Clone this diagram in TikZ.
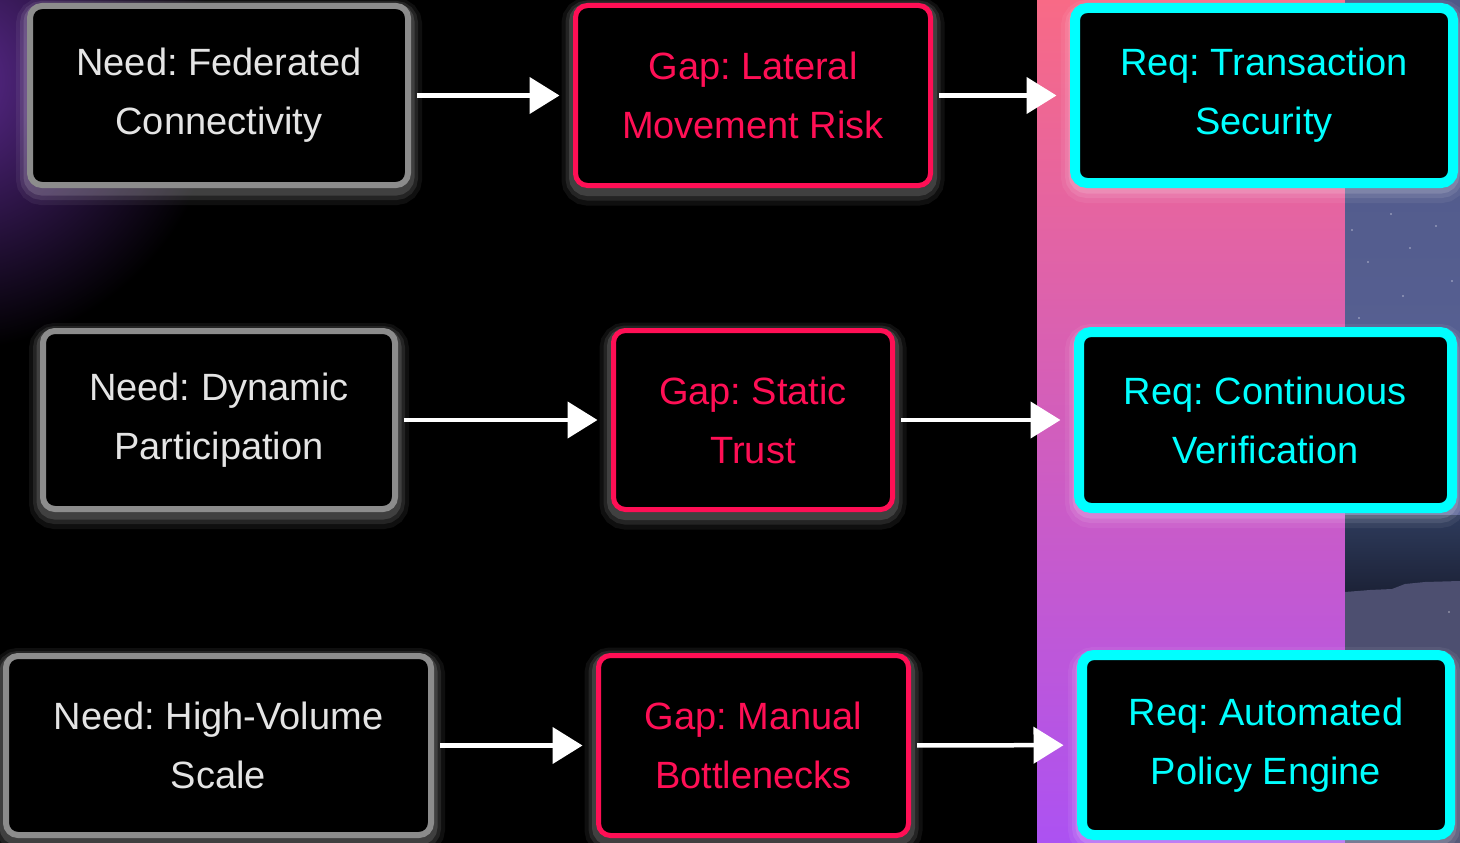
\documentclass[tikz,border=0pt]{standalone}
\usepackage{fontspec}
\setmainfont{Liberation Sans}
\frenchspacing
\usetikzlibrary{arrows.meta}
\definecolor{needgray}{HTML}{8C8C8C}
\definecolor{needtext}{HTML}{E4E4E4}
\definecolor{gapred}{HTML}{FF0F55}
\definecolor{reqcyan}{HTML}{00FFFF}
\definecolor{pinktop}{HTML}{F86A86}
\definecolor{pinkmid}{HTML}{D856C4}
\definecolor{violetbot}{HTML}{AC52F2}
\definecolor{glowpurple}{HTML}{5C2A90}
\definecolor{skytop}{HTML}{4F5888}
\definecolor{skybot}{HTML}{5A6396}
\definecolor{nighttop}{HTML}{2E3B5C}
\definecolor{nightbot}{HTML}{1C2237}
\definecolor{hill}{HTML}{4D4F70}

\tikzset{
	box/.style={rounded corners=12pt, fill=black, align=center, inner sep=0pt,
		font=\fontsize{38}{59}\selectfont, execute at begin node={\rule{0pt}{35pt}},
		preaction={draw=white, draw opacity=0.06, line width=28pt, transform canvas={yshift=-6pt}},
		preaction={draw=white, draw opacity=0.09, line width=20pt, transform canvas={yshift=-5pt}},
		preaction={draw=white, draw opacity=0.13, line width=13pt, transform canvas={yshift=-4pt}}},
	need/.style={box, draw=needgray, line width=6pt, text=needtext},
	gap/.style={box, draw=gapred, line width=5pt, text=gapred},
	req/.style={box, draw=reqcyan, line width=10pt, text=reqcyan},
	flow/.style={draw=white, line width=4.5pt, -{Triangle[length=30pt,width=36pt]},
		shorten <=6pt, shorten >=13.5pt}
}

\begin{document}
\begin{tikzpicture}[x=1pt,y=-1pt]
		\useasboundingbox (0,0) rectangle (1460,843);
		\fill[black] (0,0) rectangle (1460,843);
		\begin{scope}
			\clip (0,0) rectangle (1037,843);
			\shade[inner color=glowpurple, outer color=black] (-50,80) circle (270);
		\end{scope}
		\shade[top color=pinktop, middle color=pinkmid, bottom color=violetbot] (1037,0) rectangle (1345,843);
		
		% night sky strip on the right
		\shade[top color=skytop, bottom color=skybot] (1345,0) rectangle (1460,516);
		\shade[top color=nighttop, bottom color=nightbot] (1345,515) rectangle (1460,592);
		\fill[hill] (1345,592)--(1370,590)--(1392,589)--(1405,584)--(1425,582)--(1460,581)--(1460,843)--(1345,843)--cycle;
		\foreach \sx/\sy in {1352/230, 1368/262, 1391/214, 1410/248, 1436/226, 1452/281, 1359/318, 1384/341, 1403/296, 1428/372, 1447/330, 1371/402, 1395/437, 1419/465, 1441/418, 1356/480, 1449/612}
			\fill[white, opacity=0.55] (\sx,\sy) circle (0.9);
		
		\node[need, minimum width=378pt, minimum height=179pt] (needfed) at (219,95.5) {Need: Federated\\Connectivity};
		\node[need, minimum width=352pt, minimum height=178pt] (needdyn) at (219,420) {Need: Dynamic\\Participation};
		\node[need, minimum width=425pt, minimum height=179pt] (needvol) at (218.5,745.5) {Need: High-Volume\\Scale};
		
		\node[gap, minimum width=355pt, minimum height=180pt] (gaplat) at (753,95.5) {Gap: Lateral\\Movement Risk};
		\node[gap, minimum width=279pt, minimum height=179pt] (gapstat) at (753,420) {Gap: Static\\Trust};
		\node[gap, minimum width=310pt, minimum height=180pt] (gapman) at (753.5,745.5) {Gap: Manual\\Bottlenecks};
		
		\node[req, minimum width=378pt, minimum height=175pt] (reqtx) at (1264,95.5) {Req: Transaction\\Security};
		\node[req, minimum width=373pt, minimum height=176pt] (reqver) at (1265.5,420) {Req: Continuous\\Verification};
		\node[req, minimum width=368pt, minimum height=180pt] (reqpol) at (1266,745) {Req: Automated\\Policy Engine};
		
		\draw[flow] (needfed) -- (gaplat);
		\draw[flow] (gaplat) -- (reqtx);
		\draw[flow] (needdyn) -- (gapstat);
		\draw[flow] (gapstat) -- (reqver);
		\draw[flow] (needvol) -- (gapman);
		\draw[flow] (gapman) -- (reqpol);
	\end{tikzpicture}
\end{document}
